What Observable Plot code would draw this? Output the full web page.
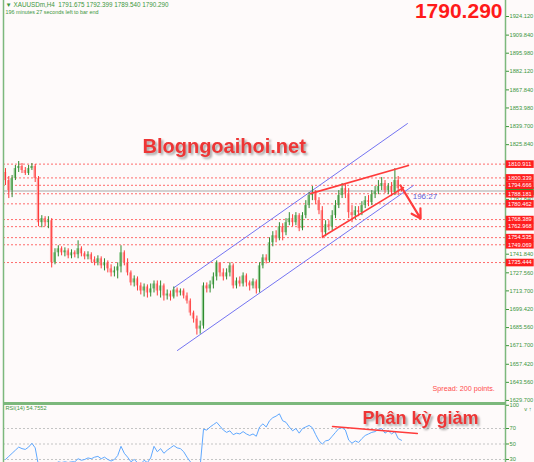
<!DOCTYPE html>
<html><head><meta charset="utf-8">
<script src="https://cdn.jsdelivr.net/npm/d3@7"></script>
<script src="https://cdn.jsdelivr.net/npm/@observablehq/plot@0.6"></script>
<style>
body{margin:0;background:#fefafa;}
#chart{width:534px;height:462px;overflow:hidden;background:#fefafa;}
#chart svg{display:block;}
</style></head><body><div id="chart"></div>
<script>
// ---- data (XAUUSDm, H4) ----
const open = [1804.5,1798.3,1790.6,1799.8,1807.5,1809.1,1806.0,1803.7,1807.5,1809.1,
1799.8,1766.0,1769.1,1766.0,1767.5,1735.2,1742.9,1746.0,1742.9,1744.4,
1740.6,1742.9,1741.4,1746.0,1742.1,1739.8,1741.4,1737.5,1735.2,1738.3,
1732.9,1735.2,1730.6,1727.5,1729.0,1732.1,1742.9,1735.2,1727.5,1719.8,
1722.9,1717.5,1713.6,1716.7,1712.1,1715.2,1719.0,1713.6,1717.5,1709.8,
1711.3,1709.0,1714.4,1712.1,1713.6,1709.8,1705.9,1696.7,1692.1,1684.4,
1686.7,1717.5,1715.2,1718.3,1724.4,1735.2,1727.5,1724.4,1727.5,1732.9,
1717.5,1721.3,1719.0,1725.2,1719.8,1717.5,1720.6,1715.2,1732.9,1739.0,
1736.7,1750.6,1756.0,1753.7,1762.9,1758.3,1766.0,1769.1,1766.0,1771.4,
1761.4,1771.4,1779.1,1786.8,1788.3,1782.9,1775.2,1758.3,1764.4,1762.9,
1771.4,1779.1,1786.8,1792.1,1788.3,1773.7,1771.4,1775.2,1773.7,1779.1,
1782.9,1781.4,1787.5,1789.8,1793.7,1796.0,1790.6,1793.7,1789.1,1798.3,
1791.675];
const high = [1807.5,1801.4,1802.2,1809.9,1812.9,1811.4,1808.3,1809.9,1811.4,1810.6,
1801.4,1771.4,1770.6,1770.6,1769.1,1746.0,1748.3,1747.5,1746.7,1746.0,
1745.2,1744.4,1752.1,1747.5,1743.7,1743.7,1742.9,1739.8,1740.6,1739.8,
1738.3,1736.7,1733.7,1732.1,1735.2,1748.3,1744.4,1738.3,1729.0,1725.2,
1724.4,1719.8,1719.0,1718.3,1719.0,1721.3,1721.3,1721.3,1719.0,1714.4,
1713.6,1716.7,1715.9,1715.2,1715.2,1712.1,1707.5,1698.2,1694.4,1690.5,
1719.8,1719.8,1721.3,1727.5,1736.7,1735.2,1730.6,1730.6,1735.2,1734.4,
1723.6,1724.4,1727.5,1726.7,1721.3,1722.9,1722.1,1735.2,1741.4,1741.4,
1754.4,1759.1,1759.8,1766.0,1765.2,1769.1,1773.7,1772.1,1773.7,1772.9,
1773.7,1782.9,1789.1,1793.7,1790.6,1785.2,1778.3,1767.5,1767.5,1775.2,
1782.9,1790.6,1796.0,1795.2,1792.1,1779.1,1778.3,1778.3,1782.1,1786.0,
1786.8,1790.6,1793.7,1798.3,1800.6,1798.3,1796.0,1796.8,1807.5,1801.4,
1792.399];
const low = [1794.5,1784.5,1785.2,1798.3,1804.5,1803.7,1802.2,1802.2,1806.0,1796.8,
1762.9,1762.1,1762.9,1761.4,1731.3,1733.7,1739.8,1740.6,1739.8,1738.3,
1738.3,1739.0,1738.3,1739.8,1737.5,1737.5,1735.2,1732.9,1732.9,1730.6,
1729.0,1727.5,1724.4,1724.4,1722.9,1727.5,1732.9,1725.2,1717.5,1716.7,
1713.6,1710.6,1709.0,1708.2,1709.0,1712.1,1709.8,1708.2,1705.9,1706.7,
1705.9,1707.5,1709.0,1709.8,1707.5,1703.6,1694.4,1689.0,1679.8,1680.5,
1684.4,1712.1,1712.1,1715.2,1721.3,1724.4,1721.3,1722.1,1724.4,1715.2,
1715.2,1716.7,1716.7,1716.7,1713.6,1715.2,1711.3,1712.1,1730.6,1734.4,
1735.2,1747.5,1750.6,1752.1,1752.1,1756.0,1763.7,1762.9,1763.7,1759.1,
1759.8,1769.1,1776.8,1782.9,1779.8,1772.1,1753.7,1755.2,1759.8,1759.8,
1769.1,1776.8,1784.5,1784.5,1769.1,1766.0,1768.3,1770.6,1771.4,1776.8,
1778.3,1779.1,1784.5,1787.5,1790.6,1788.3,1787.5,1786.0,1786.8,1786.8,
1789.540];
const close = [1798.3,1790.6,1799.8,1807.5,1809.1,1806.0,1803.7,1807.5,1809.1,1799.8,
1766.0,1769.1,1766.0,1767.5,1735.2,1742.9,1746.0,1742.9,1744.4,1740.6,
1742.9,1741.4,1746.0,1742.1,1739.8,1741.4,1737.5,1735.2,1738.3,1732.9,
1735.2,1730.6,1727.5,1729.0,1732.1,1742.9,1735.2,1727.5,1719.8,1722.9,
1717.5,1713.6,1716.7,1712.1,1715.2,1719.0,1713.6,1717.5,1709.8,1711.3,
1709.0,1714.4,1712.1,1713.6,1709.8,1705.9,1696.7,1692.1,1684.4,1686.7,
1717.5,1715.2,1718.3,1724.4,1735.2,1727.5,1724.4,1727.5,1732.9,1717.5,
1721.3,1719.0,1725.2,1719.8,1717.5,1720.6,1715.2,1732.9,1739.0,1736.7,
1750.6,1756.0,1753.7,1762.9,1758.3,1766.0,1769.1,1766.0,1771.4,1761.4,
1771.4,1779.1,1786.8,1788.3,1782.9,1775.2,1758.3,1764.4,1762.9,1771.4,
1779.1,1786.8,1792.1,1788.3,1773.7,1771.4,1775.2,1773.7,1779.1,1782.9,
1781.4,1787.5,1789.8,1793.7,1796.0,1790.6,1793.7,1789.1,1798.3,1792.1,
1790.290];
const rsi = [30,34,38,42,46,44,43,46,51,45,
22,25,23,25,17,24,27,26,27,26,
27,27,31,29,30,32,31,33,34,31,
33,30,28,30,35,47,38,33,27,30,
26,24,29,26,32,47,40,44,38,42,
45,48,45,44,40,33,27,24,20,22,
69,68,72,75,78,73,68,65,67,62,
64,63,66,63,61,63,60,72,76,72,
80,84,86,89,80,78,72,67,70,64,
70,72,74,71,62,54,50,54,55,60,
65,70,71,68,55,51,54,52,57,61,
63,65,66,69,70,64,67,63,66,57,
54.7552];
const levels = [1810.911,1800.339,1794.666,1788.181,1780.462,1768.389,1762.968,1754.535,1749.069,1735.444];
const lastPrice = 1790.290;
const priceTicks = [1924.12,1909.84,1895.98,1882.12,1867.84,1853.98,1839.70,1825.84,1783.84,1741.84,1727.56,1713.70,1699.42,1685.56,1671.70,1657.42,1643.56,1629.70];
const rsiTicks = [100,70,50,30];
// annotation lines (bar index, price)
const channelUpper = [{i:50.9,p:1715.9},{i:121.8,p:1842.0}];
const channelLower = [{i:52.1,p:1668.0},{i:123.6,p:1794.5}];
const wedgeUpper = [{i:92.4,p:1788.3},{i:122.1,p:1809.9}];
const wedgeLower = [{i:96.1,p:1755.2},{i:120.6,p:1792.9}];
const arrowDown = [{i1:119.7,p1:1794.5,i2:125.8,p2:1769.1}];
const rsiDiv = [{i:99.1,v:72.6},{i:124.8,v:63.5}];
const timerLabel = {i:123.4, p:1786.0, text:"196:27"};

// ---- chart ----
const X = [-0.606, 151.515];
const GREEN = "#3c963c", FRAME = "#7cb87c";
const FONT = "Liberation Sans, Arial, sans-serif";
const bars = close.map((c,i)=>({i,o:open[i],h:high[i],l:low[i],c,up:c>=open[i]}));
const ups = bars.filter(d=>d.up), downs = bars.filter(d=>!d.up);
const fmt3 = d3.format(".3f");
const AX = 5.7;

const main = Plot.plot({
  width:534, height:403, marginLeft:3, marginRight:29, marginTop:0, marginBottom:0,
  style:{background:"#fefafa", fontFamily:FONT, overflow:"visible"},
  x:{domain:X, axis:null},
  y:{domain:[1627.34,1936.39], axis:null},
  marks:[
    Plot.ruleY(levels,{stroke:"#ff6b6b", strokeWidth:1, strokeDasharray:"2,2"}),
    Plot.ruleY([lastPrice],{stroke:"#a8a8a8", strokeWidth:1}),
    Plot.line(channelUpper,{x:"i",y:"p",stroke:"#7474f2",strokeWidth:1}),
    Plot.line(channelLower,{x:"i",y:"p",stroke:"#7474f2",strokeWidth:1}),
    Plot.rect(ups,{x1:d=>d.i-0.38,x2:d=>d.i+0.38,y1:"o",y2:"c",fill:"#8fc98f"}),
    Plot.rect(downs,{x1:d=>d.i-0.38,x2:d=>d.i+0.38,y1:"o",y2:"c",fill:"#ff9a9a"}),
    Plot.ruleX(ups,{x:"i",y1:"l",y2:"h",stroke:"#2f8a2f",strokeWidth:1}),
    Plot.ruleX(downs,{x:"i",y1:"l",y2:"h",stroke:"#ff3a3a",strokeWidth:1}),
    Plot.line(wedgeUpper,{x:"i",y:"p",stroke:"#ff3b3b",strokeWidth:1.6}),
    Plot.line(wedgeLower,{x:"i",y:"p",stroke:"#ff3b3b",strokeWidth:1.6}),
    Plot.arrow(arrowDown,{x1:"i1",y1:"p1",x2:"i2",y2:"p2",stroke:"#ff3b3b",strokeWidth:2.2,headLength:7}),
    Plot.text([timerLabel],{x:"i",y:"p",text:"text",textAnchor:"start",fill:"#5f5fd8",fontSize:8}),
    // frame lines
    Plot.ruleX([X[0]],{stroke:FRAME,strokeWidth:1.5}),
    Plot.ruleX([X[1]],{stroke:FRAME,strokeWidth:1.5}),
    Plot.ruleY([1627.34],{stroke:FRAME,strokeWidth:3}),
    // right price axis
    Plot.axisY(priceTicks,{anchor:"right",tickSize:3,tickPadding:1,tickFormat:fmt3,fontSize:AX,color:GREEN}),
    Plot.ruleY([lastPrice],{x1:X[1]+0.2,x2:X[1]+8.7,stroke:"#2f9f2f",strokeWidth:8}),
    Plot.ruleY(levels,{x1:X[1]+0.2,x2:X[1]+8.7,stroke:"#ff1e1e",strokeWidth:7.6}),
    Plot.text(levels,{y:d=>d,frameAnchor:"right",dx:2.5,textAnchor:"start",text:d=>fmt3(d),fill:"white",fontSize:AX}),
    // texts
    Plot.text(["▼ XAUUSDm,H4  1791.675 1792.399 1789.540 1790.290"],{frameAnchor:"top-left",dx:2,dy:2,lineAnchor:"top",textAnchor:"start",fill:GREEN,fontSize:6.3}),
    Plot.text(["196 minutes 27 seconds left to bar end"],{frameAnchor:"top-left",dx:2,dy:9.5,lineAnchor:"top",textAnchor:"start",fill:GREEN,fontSize:5.4}),
    Plot.text(["1790.290"],{frameAnchor:"top-right",dx:-3,dy:3,lineAnchor:"top",textAnchor:"end",fill:"#ff1a1a",fontSize:21,fontWeight:"bold"}),
    Plot.text(["Blogngoaihoi.net"],{frameAnchor:"top-left",dx:139,dy:146,lineAnchor:"middle",textAnchor:"start",fill:"#ee3535",fontSize:20,fontWeight:"bold"}),
    Plot.text(["Spread: 200 points."],{frameAnchor:"top-left",dx:429,dy:388,lineAnchor:"middle",textAnchor:"start",fill:"#ff4d4d",fontSize:7.2})
  ]
});

const rsiData = rsi.map((v,i)=>({i,v}));
const rsiPlot = Plot.plot({
  width:534, height:59, marginLeft:3, marginRight:29, marginTop:0, marginBottom:0,
  style:{background:"#fefafa", fontFamily:FONT, overflow:"visible"},
  x:{domain:X, axis:null},
  y:{domain:[26.1,102.3], axis:null},
  marks:[
    Plot.ruleY([70,50,30],{stroke:"#c4c4c4",strokeWidth:1,strokeDasharray:"2,2"}),
    Plot.line(rsiData,{x:"i",y:"v",stroke:"#5fa8ff",strokeWidth:1,clip:true}),
    Plot.line(rsiDiv,{x:"i",y:"v",stroke:"#ff3b3b",strokeWidth:1.5}),
    Plot.ruleX([X[0]],{stroke:FRAME,strokeWidth:1.5}),
    Plot.ruleX([X[1]],{stroke:FRAME,strokeWidth:1.5}),
    Plot.ruleY([102.3],{stroke:FRAME,strokeWidth:2}),
    Plot.axisY(rsiTicks,{anchor:"right",tickSize:3,tickPadding:1,fontSize:AX,color:GREEN}),
    Plot.text(["RSI(14) 54.7552"],{frameAnchor:"top-left",dx:2,dy:3,lineAnchor:"top",textAnchor:"start",fill:GREEN,fontSize:5.6}),
    Plot.text(["Phân kỳ giảm"],{frameAnchor:"top-left",dx:359,dy:15,lineAnchor:"middle",textAnchor:"start",fill:"#ee3535",fontSize:18,fontWeight:"bold"})
  ]
});

const root = document.getElementById("chart");
root.appendChild(main);
root.appendChild(rsiPlot);
// soft drop shadow on the two watermark-style captions
d3.select(root).selectAll("text").filter(function(){
  const t = this.textContent; return t === "Blogngoaihoi.net" || t === "Phân kỳ giảm";
}).style("filter","drop-shadow(2px 2px 1px rgba(60,60,60,0.45))");
</script>
</body></html>
